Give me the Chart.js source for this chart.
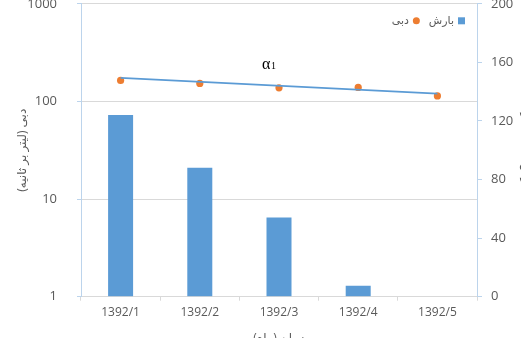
<!DOCTYPE html>
<html>
<head>
<meta charset="utf-8">
<script src="https://cdn.jsdelivr.net/npm/chart.js@4/dist/chart.umd.min.js"></script>
<style>
  html, body { margin: 0; padding: 0; width: 521px; height: 338px; overflow: hidden; background: #fff; }
  #wrap { position: absolute; left: 0; top: -24px; width: 534px; height: 372px; }
</style>
</head>
<body>
<div id="wrap"><canvas id="c" width="534" height="372"></canvas></div>
<script>
// Monthly records
const months = ['1392/1', '1392/2', '1392/3', '1392/4', '1392/5'];
const rainfall = [124, 88, 54, 7.5, 0];          // بارش (mm), right axis
const discharge = [164, 153, 138, 139, 114];     // دبی (L/s), left log axis
const recessionTrend = [174, null, null, null, 120]; // fitted recession line end points
const dischargeTicks = [1, 10, 100, 1000];
const rainTicks = [0, 40, 80, 120, 160, 200];

const FONT = '"Open Sans", "DejaVu Sans", sans-serif';
const TXT = '#595959';
const GRID = '#d9d9d9';
const AXIS_BLUE = '#bcd4ec';
const BLUE = '#5b9bd5';
const ORANGE = '#ed7d31';

// Legend drawn inside the plot, right-to-left
const inlineLegend = {
  id: 'inlineLegend',
  afterDraw(chart) {
    const ctx = chart.ctx;
    const area = chart.chartArea;
    const y = area.top + 17;
    ctx.save();
    ctx.font = '11px ' + FONT;
    ctx.fillStyle = TXT;
    ctx.textBaseline = 'middle';
    ctx.textAlign = 'right';
    let x = area.right - 12;
    const items = [
      { text: chart.data.datasets[0].label, color: BLUE, shape: 'rect' },
      { text: chart.data.datasets[1].label, color: ORANGE, shape: 'circle' }
    ];
    items.forEach(it => {
      ctx.fillStyle = it.color;
      if (it.shape === 'rect') {
        ctx.fillRect(x - 7, y - 3.5, 7, 7);
      } else {
        ctx.beginPath();
        ctx.arc(x - 3.5, y, 3.5, 0, Math.PI * 2);
        ctx.fill();
      }
      x -= 7 + 4;
      ctx.fillStyle = TXT;
      ctx.fillText(it.text, x, y);
      x -= ctx.measureText(it.text).width + 9;
    });
    ctx.restore();
  }
};

// Recession coefficient label above the trend line
const alphaLabel = {
  id: 'alphaLabel',
  afterDraw(chart) {
    const ctx = chart.ctx;
    const x = chart.scales.x.getPixelForValue(2) - 17;
    const y = chart.chartArea.top + 65;
    ctx.save();
    ctx.fillStyle = '#000';
    ctx.textBaseline = 'alphabetic';
    ctx.textAlign = 'left';
    ctx.font = '16px "Liberation Serif", "DejaVu Serif", serif';
    ctx.fillText('α', x, y);
    const w = ctx.measureText('α').width;
    ctx.font = '10px "Liberation Serif", "DejaVu Serif", serif';
    ctx.fillText('1', x + w + 0.5, y);
    ctx.restore();
  }
};

new Chart(document.getElementById('c'), {
  type: 'bar',
  data: {
    labels: months,
    datasets: [
      {
        type: 'bar', label: 'بارش', data: rainfall, yAxisID: 'yR',
        backgroundColor: BLUE, barThickness: 25, inflateAmount: 0, order: 3
      },
      {
        type: 'line', label: 'دبی', data: discharge, yAxisID: 'yL',
        showLine: false, pointRadius: 3.6, pointBorderWidth: 0,
        pointBackgroundColor: ORANGE, backgroundColor: ORANGE, borderColor: ORANGE, order: 2
      },
      {
        type: 'line', label: 'trend', data: recessionTrend, yAxisID: 'yL',
        spanGaps: true, borderColor: BLUE, borderWidth: 1.8, pointRadius: 0, order: 1
      }
    ]
  },
  options: {
    responsive: false,
    animation: false,
    devicePixelRatio: 1,
    layout: { padding: { left: 15, top: 2, right: 0, bottom: 2 } },
    plugins: { legend: { display: false }, tooltip: { enabled: false } },
    scales: {
      x: {
        offset: true,
        grid: { offset: true, drawOnChartArea: false, tickLength: 4, color: GRID, tickColor: GRID },
        border: { color: GRID },
        ticks: { font: { family: FONT, size: 12 }, color: TXT, padding: 5, maxRotation: 0 },
        title: { display: true, text: 'زمان (ماه)', font: { family: FONT, size: 12 }, color: TXT, padding: 0 },
        afterFit(s) { s.height = 49.3; }
      },
      yL: {
        type: 'logarithmic', position: 'left', min: 1, max: 1000,
        afterBuildTicks(s) { s.ticks = dischargeTicks.map(v => ({ value: v })); },
        ticks: { font: { family: FONT, size: 13 }, color: TXT, padding: 20, callback: v => String(v) },
        grid: { color: GRID, tickColor: AXIS_BLUE, tickLength: 4 },
        border: { color: AXIS_BLUE },
        title: { display: true, text: 'دبی (لیتر بر ثانیه)', font: { family: FONT, size: 12 }, color: TXT, padding: 0 },
        afterFit(s) { s.width = 66; }
      },
      yR: {
        position: 'right', min: 0, max: 200,
        afterBuildTicks(s) { s.ticks = rainTicks.map(v => ({ value: v })); },
        ticks: { font: { family: FONT, size: 13 }, color: TXT, padding: 9 },
        grid: { drawOnChartArea: false, tickColor: AXIS_BLUE, tickLength: 5 },
        border: { color: AXIS_BLUE },
        title: { display: true, text: 'بارش (میلی متر)', font: { family: FONT, size: 12 }, color: TXT, padding: 0 },
        afterFit(s) { s.width = 57; }
      }
    }
  },
  plugins: [inlineLegend, alphaLabel]
});
</script>
</body>
</html>
